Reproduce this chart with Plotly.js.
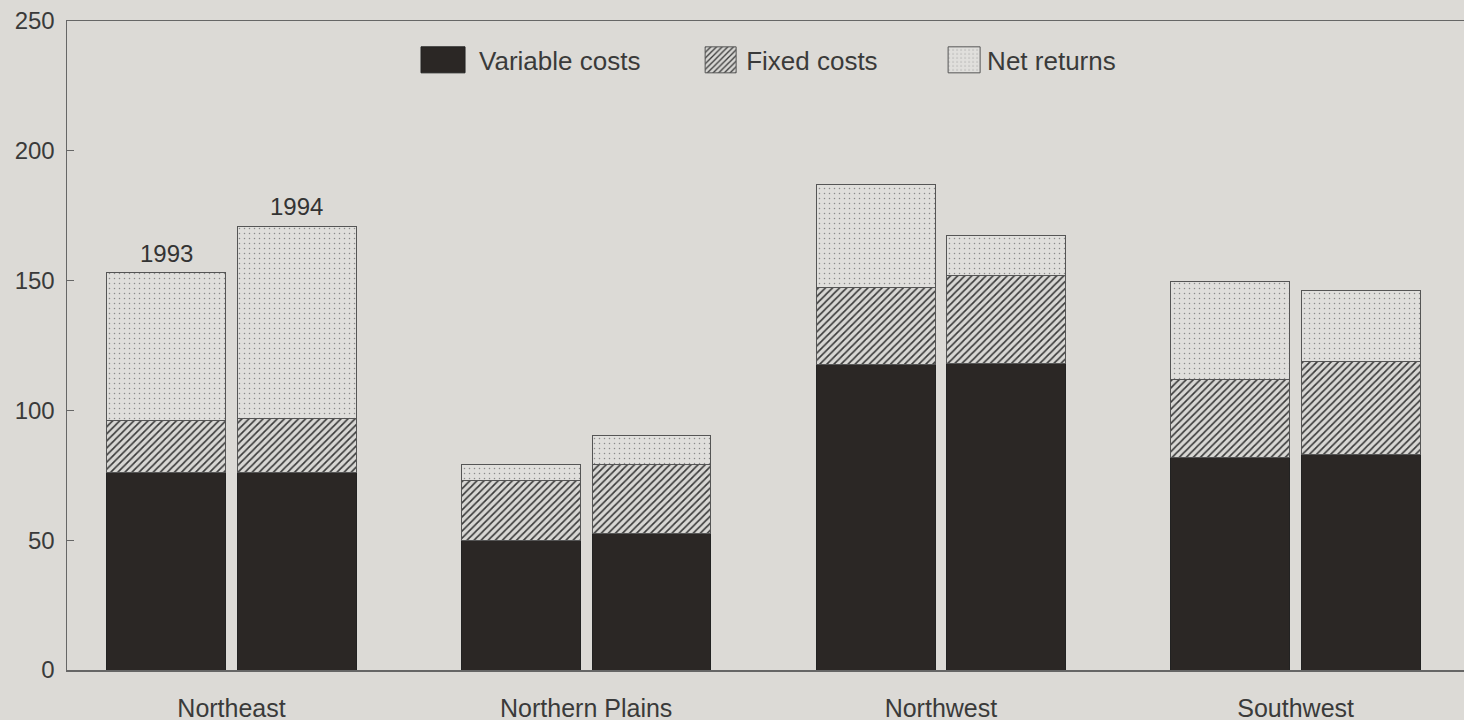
<!DOCTYPE html>
<html>
<head>
<meta charset="utf-8">
<script src="https://cdn.plot.ly/plotly-3.0.1.min.js"></script>
<style>html,body{margin:0;padding:0;background:#dcdad6;}#chart{width:1464px;height:720px;}</style>
</head>
<body>
<div id="chart"></div>
<script>
const regions = ['Northeast', 'Northern Plains', 'Northwest', 'Southwest'];
const years = ['1993', '1994'];
const variable1993 = [76, 50, 117.5, 82];
const fixed1993 = [20, 23, 30, 30];
const net1993 = [57, 6, 39.5, 37.5];
const variable1994 = [76, 52.5, 118, 83];
const fixed1994 = [21, 26.5, 34, 36];
const net1994 = [74, 11.5, 15.5, 27];
const yTicks = [0, 50, 100, 150, 200, 250];

const OFF = 0.184;
const BW = 0.335;
const xs = [];
regions.forEach((r, i) => { xs.push(i - OFF); });
regions.forEach((r, i) => { xs.push(i + OFF); });

const lineStyle = {color: '#555', width: 1};
const traces = [
  {name: 'Variable costs', legend: 'legend', y: variable1993.concat(variable1994),
   marker: {color: '#2b2725', line: {color: '#222', width: 1}}},
  {name: 'Fixed costs', legend: 'legend2', y: fixed1993.concat(fixed1994),
   marker: {color: '#d6d5d2', line: lineStyle,
     pattern: {shape: '/', bgcolor: '#d8d7d4', fgcolor: '#3a3a3a', size: 5, solidity: 0.33}}},
  {name: 'Net returns', legend: 'legend3', y: net1993.concat(net1994),
   marker: {color: '#dfdedb', line: lineStyle,
     pattern: {shape: '.', bgcolor: '#e0dfdc', fgcolor: '#8a8a8a', size: 5, solidity: 0.07}}}
].map(t => Object.assign({type: 'bar', x: xs, width: BW, hoverinfo: 'skip'}, t));

const tot1993 = variable1993.map((v, i) => v + fixed1993[i] + net1993[i]);
const tot1994 = variable1994.map((v, i) => v + fixed1994[i] + net1994[i]);
const annotations = [
  {x: 0 - OFF, y: tot1993[0], text: years[0]},
  {x: 0 + OFF, y: tot1994[0], text: years[1]}
].map(a => Object.assign({xref: 'x', yref: 'y', yanchor: 'bottom', showarrow: false, yshift: 4,
  font: {family: 'Liberation Sans, Arial, sans-serif', size: 24, color: '#333'}}, a));

const font = {family: 'Liberation Sans, Arial, sans-serif', size: 24, color: '#3a3a3a'};
const legFont = {family: 'Liberation Sans, Arial, sans-serif', size: 26, color: '#3a3a3a'};
const leg = x => ({orientation: 'h', x: x, xanchor: 'left', y: 0.94, yanchor: 'middle',
  bgcolor: 'rgba(0,0,0,0)', font: legFont});
const layout = {
  width: 1464, height: 720,
  margin: {l: 67, r: 0, t: 21, b: 50},
  paper_bgcolor: '#dcdad6', plot_bgcolor: '#dcdad6',
  barmode: 'stack',
  font: font,
  showlegend: true,
  legend: leg(0.2663),
  legend2: leg(0.4575),
  legend3: leg(0.6300),
  xaxis: {range: [-0.4638, 3.4747], tickvals: regions.map((r, i) => i), ticktext: regions,
    ticks: '', showline: true, mirror: true, linecolor: '#666', linewidth: 1.5,
    showgrid: false, zeroline: false, ticklabelstandoff: 15,
    tickfont: Object.assign({}, font, {size: 25}), fixedrange: true},
  yaxis: {range: [0, 250], tickvals: yTicks, ticks: 'inside', ticklen: 7, tickcolor: '#666',
    showline: true, linecolor: '#666', linewidth: 1.5, showgrid: false, zeroline: false,
    tickfont: font, ticklabelstandoff: 6, fixedrange: true},
  annotations: annotations
};

const swatches = {legend: 'M6,13H-38V-13H6Z', legend2: 'M10,13H-21V-13H10Z', legend3: 'M13,13H-19V-13H13Z'};
Plotly.newPlot('chart', traces, layout, {displayModeBar: false, staticPlot: true}).then(gd => {
  Object.keys(swatches).forEach(k => {
    const g = gd.querySelector('.' + k);
    if (!g) return;
    g.querySelectorAll('[clip-path]').forEach(e => e.removeAttribute('clip-path'));
    g.querySelectorAll('.legendpoints path').forEach(p => p.setAttribute('d', swatches[k]));
  });
});
</script>
</body>
</html>
